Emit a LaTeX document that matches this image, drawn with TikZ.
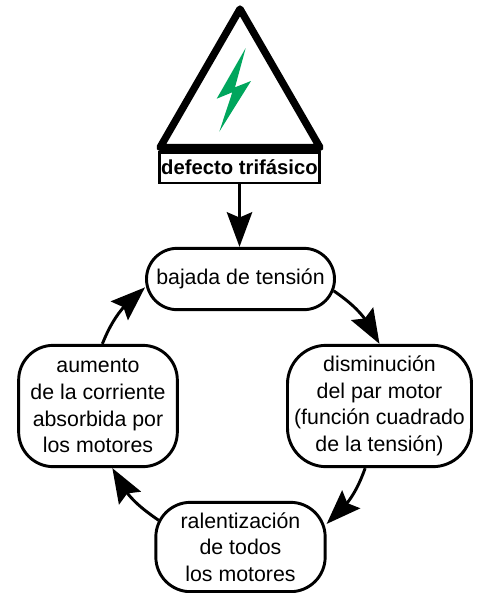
\documentclass[tikz,border=0pt]{standalone}
\usepackage{fontspec}
\setmainfont{Liberation Sans}
\usetikzlibrary{arrows.meta,bending}

\tikzset{
  etapa/.style={draw, line width=2.2pt, fill=white, align=center, inner sep=0pt,
    font=\fontsize{16}{20}\selectfont},
  flecha/.style={line width=2.2pt, -{Stealth[length=26pt, width=19pt, inset=4pt]}},
}
\definecolor{rayo}{RGB}{0,166,93}

\begin{document}
\begin{tikzpicture}[x=0.75pt, y=-0.75pt]

\useasboundingbox (0,0) rectangle (476,593);

\fill[rayo] (245.7,48) -- (216.7,98.7) -- (232.3,92.3) -- (219.3,131.7) -- (251,81) -- (235,87.3) -- cycle;
\draw[line width=5.5pt, line join=round, line cap=round] (240,9) -- (320,147.5) -- (160,147.5) -- cycle;

\node[draw, line width=2pt, minimum width=120pt, minimum height=23pt, inner sep=0pt,
  font=\fontsize{15.2}{18}\selectfont\bfseries] (defecto) at (239.5,167.5) {defecto trifásico};

\node[etapa, minimum width=141pt, minimum height=46pt, rounded corners=23pt] (bajada) at (240.5,279) {bajada de tensión};
\node[etapa, minimum width=138pt, minimum height=91pt, rounded corners=29pt] (disminucion) at (379.5,406) {disminución\\del par motor\\(función cuadrado\\de la tensión)};
\node[etapa, minimum width=127pt, minimum height=67pt, rounded corners=26pt] (ralentizacion) at (240.5,547) {ralentización\\de todos\\los motores};
\node[etapa, minimum width=119pt, minimum height=91pt, rounded corners=26pt] (aumento) at (98,406) {aumento\\de la corriente\\absorbida por\\los motores};

\draw[flecha] (defecto.south) -- (defecto.south |- bajada.north);
\draw[flecha, shorten <=-2pt] (bajada.-8) to[bend left=15] (disminucion.north);
\draw[flecha] (disminucion.-103) to[bend left=15] (ralentizacion.15);
\draw[flecha, shorten <=-4pt] (ralentizacion.161) to[bend left=15] (aumento.-77);
\draw[flecha] (aumento.86) to[bend left=15] (bajada.185);

\end{tikzpicture}
\end{document}
